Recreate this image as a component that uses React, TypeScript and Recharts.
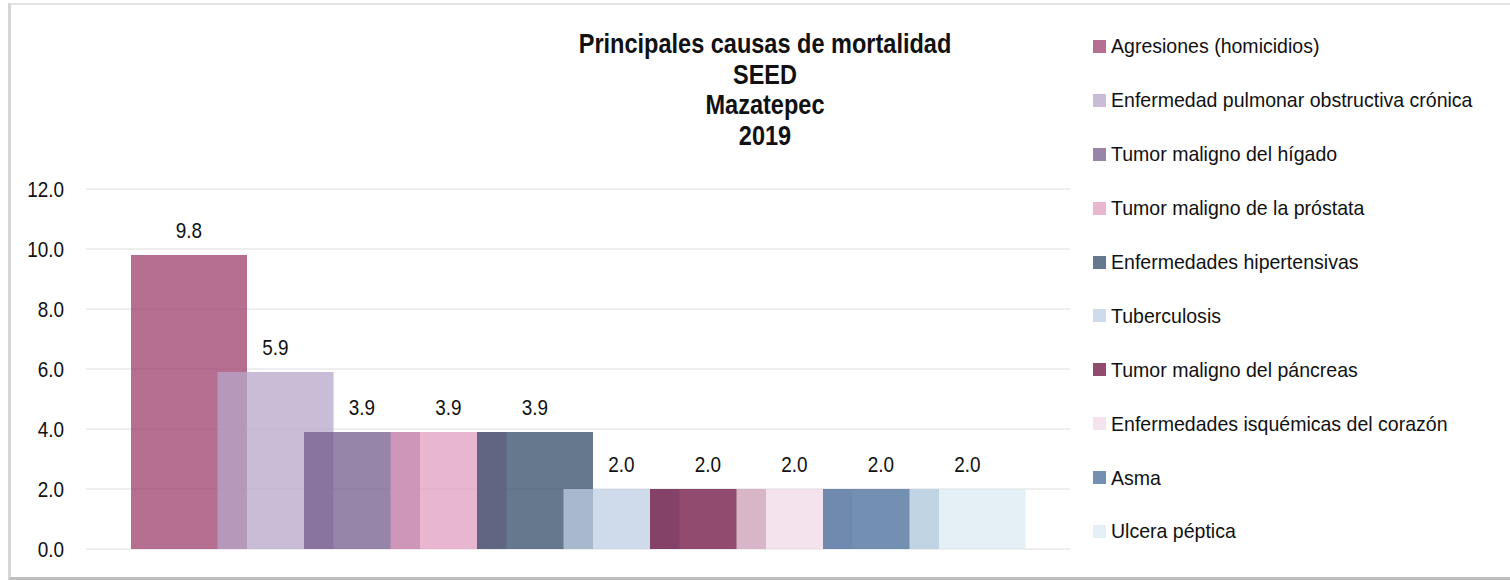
import { BarChart, Bar, XAxis, YAxis, CartesianGrid, LabelList } from 'recharts';

const causes = [
  'Agresiones (homicidios)',
  'Enfermedad pulmonar obstructiva crónica',
  'Tumor maligno del hígado',
  'Tumor maligno de la próstata',
  'Enfermedades hipertensivas',
  'Tuberculosis',
  'Tumor maligno del páncreas',
  'Enfermedades isquémicas del corazón',
  'Asma',
  'Ulcera péptica',
];

const values = [9.8, 5.9, 3.9, 3.9, 3.9, 2.0, 2.0, 2.0, 2.0, 2.0];

// semi-transparent fills, bars overlap like in the original
const colors = [
  'rgba(159,63,108,0.75)',
  'rgba(182,166,200,0.75)',
  'rgba(115,92,139,0.75)',
  'rgba(224,158,191,0.75)',
  'rgba(51,75,104,0.75)',
  'rgba(191,207,227,0.75)',
  'rgba(108,15,62,0.75)',
  'rgba(240,218,230,0.75)',
  'rgba(68,107,154,0.75)',
  'rgba(219,235,243,0.75)',
];

const yTicks = [0, 2, 4, 6, 8, 10, 12];

const titleLines = ['Principales causas de mortalidad', 'SEED', 'Mazatepec', '2019'];

// no narrow font installed, so squeeze Liberation Sans horizontally
const FONT = '"Liberation Sans", Arial, sans-serif';

const chartData = [
  causes.reduce((row: any, _c, i) => {
    row['s' + i] = values[i];
    return row;
  }, { name: '' }),
];

const narrow = (x: number, k: number) => `translate(${x},0) scale(${k},1) translate(${-x},0)`;

const YTick = ({ x, y, payload }: any) => (
  <text x={x} y={y} dy="0.36em" textAnchor="end" fill="#111" fontSize={22} fontFamily={FONT} transform={narrow(x, 0.86)}>
    {Number(payload.value).toFixed(1)}
  </text>
);

const ValueLabel = ({ x, y, width, value }: any) => {
  const cx = x + width / 2;
  return (
    <text x={cx} y={y - 17} textAnchor="middle" fill="#111" fontSize={22} fontFamily={FONT} transform={narrow(cx, 0.86)}>
      {Number(value).toFixed(1)}
    </text>
  );
};

export default function App() {
  return (
    <div style={{ position: 'absolute', left: 0, top: 0, width: 1510, height: 580, background: '#fff', overflow: 'hidden', fontFamily: FONT }}>
      {/* outer frame */}
      <div
        style={{
          position: 'absolute', left: 8, top: 3, width: 1510, height: 572,
          borderTop: '2px solid #e2e2e2', borderLeft: '3px solid #d6d6d6', borderBottom: '3px solid #bdbdbd',
        }}
      />

      <div style={{ position: 'absolute', left: 0, top: 0 }}>
        <BarChart
          width={1510}
          height={580}
          data={chartData}
          margin={{ top: 189, right: 440, bottom: 31, left: 0 }}
          barSize={116}
          barGap={-29.5}
        >
          <CartesianGrid horizontal vertical={false} stroke="#eeeeee" strokeWidth={2} />
          <XAxis dataKey="name" hide />
          <YAxis
            width={86}
            domain={[0, 12]}
            ticks={yTicks}
            axisLine={false}
            tickLine={false}
            tickMargin={16}
            tick={<YTick />}
          />
          {causes.map((c, i) => (
            <Bar key={c} dataKey={'s' + i} name={c} fill={colors[i]} isAnimationActive={false}>
              <LabelList dataKey={'s' + i} content={<ValueLabel />} />
            </Bar>
          ))}
        </BarChart>
      </div>

      {/* title */}
      <div
        style={{
          position: 'absolute', left: 465, top: 29, width: 600, textAlign: 'center',
          fontWeight: 'bold', fontSize: 28, lineHeight: '30.5px', color: '#111',
          transform: 'scaleX(0.84)', transformOrigin: '300px 0', whiteSpace: 'nowrap',
        }}
      >
        {titleLines.map((t) => (
          <div key={t}>{t}</div>
        ))}
      </div>

      {/* legend */}
      <div style={{ position: 'absolute', left: 1093, top: 19.5 }}>
        {causes.map((c, i) => (
          <div key={c} style={{ display: 'flex', alignItems: 'center', height: 53.9, fontSize: 21, color: '#111', whiteSpace: 'nowrap' }}>
            <span style={{ display: 'inline-block', width: 13, height: 13, background: colors[i], marginRight: 5, flex: 'none' }} />
            <span style={{ display: 'inline-block', transform: 'scaleX(0.93)', transformOrigin: '0 50%' }}>{c}</span>
          </div>
        ))}
      </div>
    </div>
  );
}
